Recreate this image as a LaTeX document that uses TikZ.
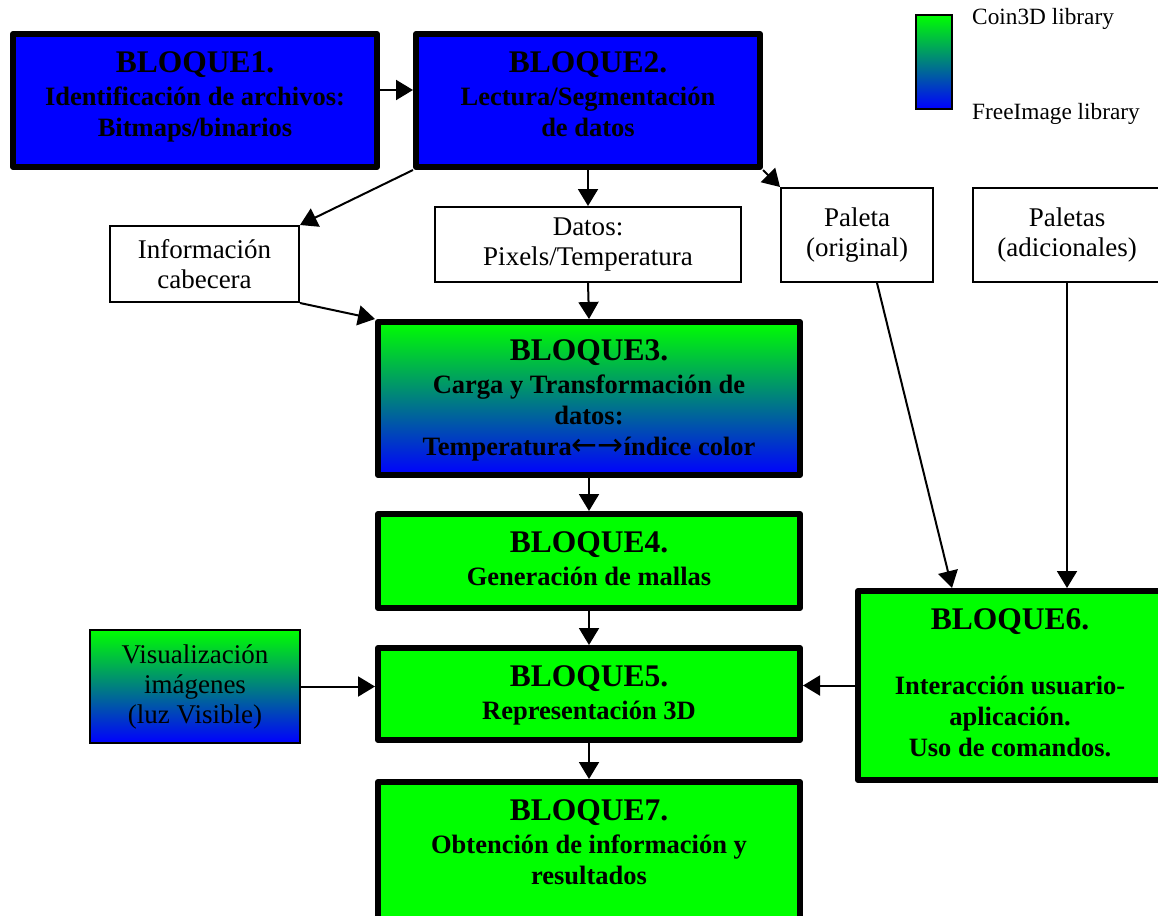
\documentclass[tikz,border=0pt]{standalone}
\usepackage{fontspec}
\setmainfont{Liberation Serif}
\newfontfamily\arrowfont{DejaVu Sans}
\usetikzlibrary{arrows.meta}
\definecolor{libgreen}{RGB}{0,255,0}
\definecolor{libteal}{RGB}{0,165,170}
\definecolor{libblue}{RGB}{0,0,255}
\newcommand{\bodyfont}{\fontsize{26.5}{31}\selectfont\bfseries}
\newcommand{\titlesize}{\fontsize{31.5}{31}\selectfont}
\newcommand{\plainfont}{\fontsize{27}{30}\selectfont}
\newcommand{\legendfont}{\fontsize{23.3}{26}\selectfont}
\newcommand{\titlestrut}{\rule{0pt}{25pt}}
\newcommand{\bothways}{{\arrowfont\mdseries\fontsize{31}{31}\selectfont ←→}}

\begin{document}
\begin{tikzpicture}[x=1pt,y=-1pt,
  blockbox/.style={draw, line width=6pt, line join=round, inner sep=0pt},
  thinbox/.style={draw, line width=2pt, inner sep=0pt, fill=white, font=\plainfont, align=center},
  blocktext/.style={anchor=north, inner sep=0pt, align=center, font=\bodyfont},
  arr/.style={line width=2pt, -{Triangle[length=17pt,width=20pt]}},
  bluefill/.style={fill=libblue},
  greenfill/.style={fill=libgreen},
  gradfill/.style={top color=libgreen, middle color=libteal, bottom color=libblue},
]
\useasboundingbox (0,0) rectangle (1158,915);
\clip (0,0) rectangle (1158,915);

% main processing blocks
\node[blockbox, bluefill, minimum width=364, minimum height=133] (b1) at (195,100.5) {};
\node[blockbox, bluefill, minimum width=344, minimum height=133] (b2) at (588,100.5) {};
\node[blockbox, gradfill, minimum width=422, minimum height=153] (b3) at (589,398.5) {};
\node[blockbox, greenfill, minimum width=422, minimum height=94] (b4) at (589,561) {};
\node[blockbox, greenfill, minimum width=422, minimum height=92] (b5) at (589,694) {};
\node[blockbox, greenfill, minimum width=304, minimum height=189] (b6) at (1010,685.5) {};
\node[blockbox, greenfill, minimum width=422, minimum height=175] (b7) at (589,869.5) {};

% block captions
\node[blocktext] (t1) at ([yshift=-16pt]b1.north) {{\titlesize\titlestrut BLOQUE1.}\\[2pt]Identificación de archivos:\\Bitmaps/binarios};
\node[blocktext] (t2) at ([yshift=-16pt]b2.north) {{\titlesize\titlestrut BLOQUE2.}\\[2pt]Lectura/Segmentación\\de datos};
\node[blocktext] (t3) at ([yshift=-16pt]b3.north) {{\titlesize\titlestrut BLOQUE3.}\\[2pt]Carga y Transformación de\\datos:\\Temperatura\bothways índice color};
\node[blocktext] (t4) at ([yshift=-16pt]b4.north) {{\titlesize\titlestrut BLOQUE4.}\\[2pt]Generación de mallas};
\node[blocktext] (t5) at ([yshift=-16pt]b5.north) {{\titlesize\titlestrut BLOQUE5.}\\[2pt]Representación 3D};
\node[blocktext] (t6) at ([yshift=-16pt]b6.north) {{\titlesize\titlestrut BLOQUE6.}\\[34pt]Interacción usuario-\\aplicación.\\Uso de comandos.};
\node[blocktext] (t7) at ([yshift=-16pt]b7.north) {{\titlesize\titlestrut BLOQUE7.}\\[2pt]Obtención de información y\\resultados};

% data boxes
\node[thinbox, minimum width=189, minimum height=76] (info) at (204.5,264) {Información\\cabecera};
\node[thinbox, minimum width=306, minimum height=75] (datos) at (588,244.5) {Datos:\\Pixels/Temperatura};
\node[thinbox, minimum width=152, minimum height=94] (paleta) at (857,235) {Paleta\\(original)};
\node[thinbox, minimum width=188, minimum height=94] (paletas) at (1067,235) {Paletas\\(adicionales)};
\node[thinbox, gradfill, minimum width=210, minimum height=113] (vis) at (195,686.5) {Visualización\\imágenes\\(luz Visible)};

% legend
\node[draw, line width=2pt, gradfill, inner sep=0pt, minimum width=36, minimum height=94] (leg) at (934,62) {};
\node[anchor=base west, inner sep=0pt, font=\legendfont] (legtop) at (972,25) {Coin3D library};
\node[anchor=base west, inner sep=0pt, font=\legendfont] (legbot) at (972,120) {FreeImage library};

% connectors
\draw[arr] ([yshift=10.5pt]b1.east) -- ([yshift=10.5pt]b2.west);
\draw[arr] (b2.south west) -- (info.north east);
\draw[arr] (b2.south) -- (datos.north);
\draw[arr] (b2.south east) -- (paleta.north west);
\draw[arr] (info.south east) -- (b3.north west);
\draw[arr] (datos.south) -- (b3.north);
\draw[arr] (b3.south) -- (b4.north);
\draw[arr] (b4.south) -- (b5.north);
\draw[arr] (b5.south) -- (b7.north);
\draw[arr] (vis.east) -- (vis.east -| b5.west);
\draw[arr] (b6.west) -- (b6.west -| b5.east);
\draw[arr] ([xshift=20pt]paleta.south) -- ([xshift=-58pt]b6.north);
\draw[arr] (paletas.south) -- (paletas.south |- b6.north);
\end{tikzpicture}
\end{document}
